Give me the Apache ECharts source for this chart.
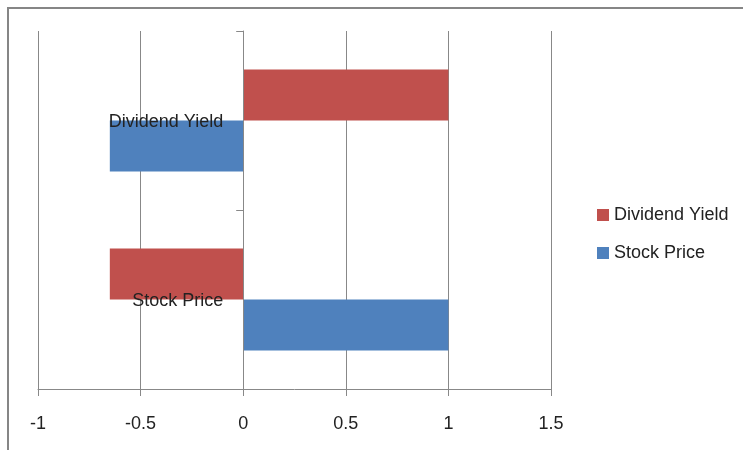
<!DOCTYPE html>
<html>
<head>
<meta charset="utf-8">
<script src="https://cdn.jsdelivr.net/npm/echarts@6/dist/echarts.min.js"></script>
<style>html,body{margin:0;padding:0;background:#fff;}#chart{width:743px;height:450px;}</style>
</head>
<body>
<div id="chart"></div>
<script>
var categories = ['Stock Price', 'Dividend Yield'];
var dividendYield = [-0.65, 1];
var stockPrice = [1, -0.65];
var seriesNames = ['Dividend Yield', 'Stock Price'];

var FONT = '"Liberation Sans", Arial, sans-serif';
var GRAY = '#888888';
var GRID_LEFT = 38;
var chart = echarts.init(document.getElementById('chart'));
chart.setOption({
  animation: false,
  backgroundColor: '#ffffff',
  graphic: [{
    type: 'rect',
    shape: { x: 8, y: 8, width: 900, height: 600 },
    style: { fill: 'none', stroke: '#868686', lineWidth: 2 },
    silent: true
  }],
  grid: { left: GRID_LEFT, right: 192, top: 31, bottom: 61, containLabel: false, outerBoundsMode: 'none' },
  legend: {
    orient: 'vertical',
    left: 592,
    top: 201,
    icon: 'rect',
    itemWidth: 12,
    itemHeight: 12,
    itemGap: 20,
    data: seriesNames,
    textStyle: { fontFamily: FONT, fontSize: 18, color: '#222' }
  },
  xAxis: {
    type: 'value',
    min: -1,
    max: 1.5,
    interval: 0.5,
    axisLine: { show: true, lineStyle: { color: GRAY, width: 1 } },
    axisTick: { show: true, length: 7, lineStyle: { color: GRAY } },
    axisLabel: { margin: 26, fontFamily: FONT, fontSize: 18, color: '#222' },
    splitLine: { show: true, lineStyle: { color: GRAY, width: 1 } }
  },
  yAxis: {
    type: 'category',
    data: categories,
    z: 10,
    axisLine: { show: true, onZero: false, lineStyle: { color: GRAY, width: 1 } },
    axisTick: { show: true, length: 7, lineStyle: { color: GRAY } },
    axisLabel: {
      margin: 20,
      formatter: '{t|{value}}',
      rich: { t: { padding: [4, 0, 0, 0], fontFamily: FONT, fontSize: 18, color: '#222' } }
    },
    splitLine: { show: false }
  },
  series: [
    {
      name: seriesNames[0],
      type: 'bar',
      data: dividendYield,
      itemStyle: { color: '#C0504D' },
      barGap: '0%',
      barCategoryGap: '43%'
    },
    {
      name: seriesNames[1],
      type: 'bar',
      data: stockPrice,
      itemStyle: { color: '#4F81BD' },
      barGap: '0%',
      barCategoryGap: '43%'
    }
  ]
});
// move the category axis (line, ticks, labels) onto x = 0 using the library's own scale
var zeroPx = chart.convertToPixel({ xAxisIndex: 0 }, 0);
chart.setOption({ yAxis: { offset: -(zeroPx - GRID_LEFT) } });
</script>
</body>
</html>
